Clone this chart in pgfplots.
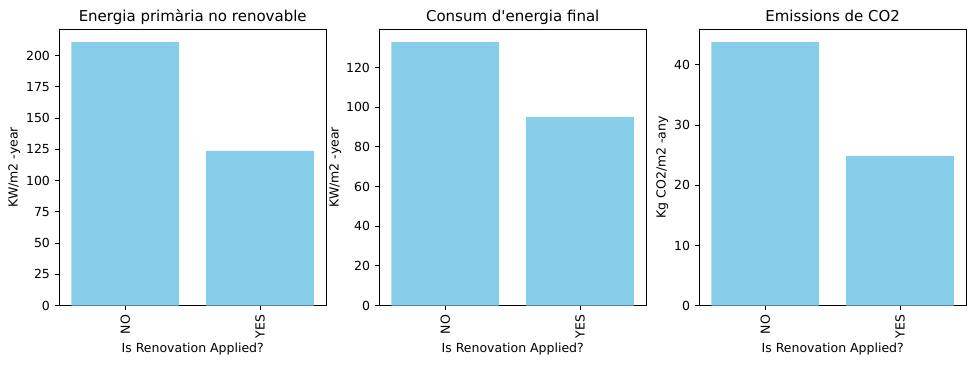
\documentclass[border=0pt]{standalone}
\usepackage{fontspec}
\setmainfont{DejaVu Sans}
\usepackage{pgfplots}
\pgfplotsset{compat=1.18}
\definecolor{skyblue}{HTML}{87CEEB}
\pgfplotsset{
  every axis title shift=0pt,
  mybar/.style={
    width=192.1pt, height=199.2pt, scale only axis,
    ybar, bar width=0.8, bar shift=0pt,
    xmin=-0.49, xmax=1.49, ymin=0,
    xtick={0,1}, xticklabels={NO,YES},
    tick align=outside, xtick pos=bottom, ytick pos=left,
    major tick length=3.2pt,
    every tick/.style={black, line width=0.72pt},
    axis line style={black, line width=0.72pt},
    /pgf/number format/assume math mode=true,
    tick label style={font=\fontsize{9}{11}\selectfont},
    label style={font=\fontsize{9}{11}\selectfont},
    xticklabel style={rotate=90, anchor=east},
    title style={font=\fontsize{10.8}{13}\selectfont, at={(axis description cs:0.5,1)}, anchor=base, yshift=5.5pt},
    xlabel={Is Renovation Applied?},
    xlabel style={at={(axis description cs:0.5,0)}, anchor=center, yshift=-31.5pt},
    scaled y ticks=false,
  }
}
\begin{document}
\begin{tikzpicture}
\useasboundingbox (-42.7pt,-42.0pt) rectangle (659.3pt,220.1pt);
\begin{axis}[mybar, at={(0pt,0pt)}, anchor=south west, ymax=221.2,
  ytick={0,25,...,200}, ylabel={KW/m2 -year},
  ylabel style={at={(axis description cs:0,0.5)}, anchor=center, yshift=32.4pt},
  title={Energia primària no renovable}]
\addplot[fill=skyblue, draw=none] coordinates {(0,210.7) (1,123.7)};
\end{axis}
\begin{axis}[mybar, at={(230.4pt,0pt)}, anchor=south west, ymax=139.4,
  ytick={0,20,...,120}, ylabel={KW/m2 -year},
  ylabel style={at={(axis description cs:0,0.5)}, anchor=center, yshift=31.7pt},
  title={Consum d\textquotesingle energia final}]
\addplot[fill=skyblue, draw=none] coordinates {(0,132.8) (1,95.1)};
\end{axis}
\begin{axis}[mybar, at={(460.8pt,0pt)}, anchor=south west, ymax=45.96,
  ytick={0,10,...,40}, ylabel={Kg CO2/m2 -any},
  ylabel style={at={(axis description cs:0,0.5)}, anchor=center, yshift=26.7pt},
  title={Emissions de CO2}]
\addplot[fill=skyblue, draw=none] coordinates {(0,43.77) (1,24.87)};
\end{axis}
\end{tikzpicture}
\end{document}
